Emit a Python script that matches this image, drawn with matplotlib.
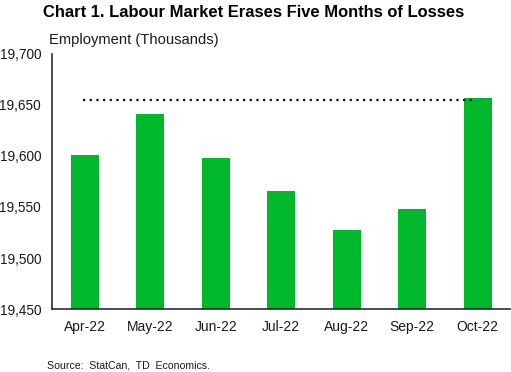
import matplotlib.pyplot as plt
from matplotlib.ticker import FuncFormatter

plt.rcParams['font.family'] = ['Liberation Sans', 'DejaVu Sans']

months = ["Apr-22", "May-22", "Jun-22", "Jul-22", "Aug-22", "Sep-22", "Oct-22"]
employment = [19601, 19641, 19598, 19566, 19527, 19548, 19657]
recovery_level = 19655
y_ticks = [19450, 19500, 19550, 19600, 19650, 19700]


def main():
    fig = plt.figure(figsize=(5.11, 3.72), dpi=100)
    ax = fig.add_axes([0.102, 0.169, 0.897, 0.687])

    x = list(range(len(months)))
    ax.bar(x, employment, width=0.43, color="#00b82b", zorder=2)
    ax.plot([x[0] - 0.03, x[-1] - 0.03], [recovery_level, recovery_level],
            color="#111111", lw=1.6, linestyle=(0, (1, 2)),
            dash_capstyle="butt", zorder=3)

    ax.set_xlim(-0.5, len(months) - 0.5)
    ax.set_ylim(y_ticks[0], y_ticks[-1])
    ax.set_yticks(y_ticks)
    ax.yaxis.set_major_formatter(FuncFormatter(lambda v, p: f"{int(v):,}"))
    ax.set_xticks(x)
    ax.set_xticklabels(months)
    ax.tick_params(axis="y", length=0, pad=8, labelsize=9.8, colors="#1a1a1a")
    ax.tick_params(axis="x", length=0, pad=8, labelsize=10, colors="#1a1a1a")

    for side in ["top", "right"]:
        ax.spines[side].set_visible(False)
    for side in ["left", "bottom"]:
        ax.spines[side].set_color("#1a1a1a")
        ax.spines[side].set_linewidth(1.1)

    fig.text(0.497, 0.966, "Chart 1. Labour Market Erases Five Months of Losses",
             ha="center", va="center", fontsize=11.9, fontweight="bold")
    fig.text(49 / 511, 1 - 40 / 372, "Employment (Thousands)",
             ha="left", va="center", fontsize=10.6, color="#1a1a1a")
    fig.text(47 / 511, 1 - 366 / 372, "Source:  StatCan,  TD  Economics.",
             ha="left", va="center", fontsize=7.6, color="#1a1a1a")

    fig.savefig("out.png", dpi=100)


if __name__ == "__main__":
    main()
